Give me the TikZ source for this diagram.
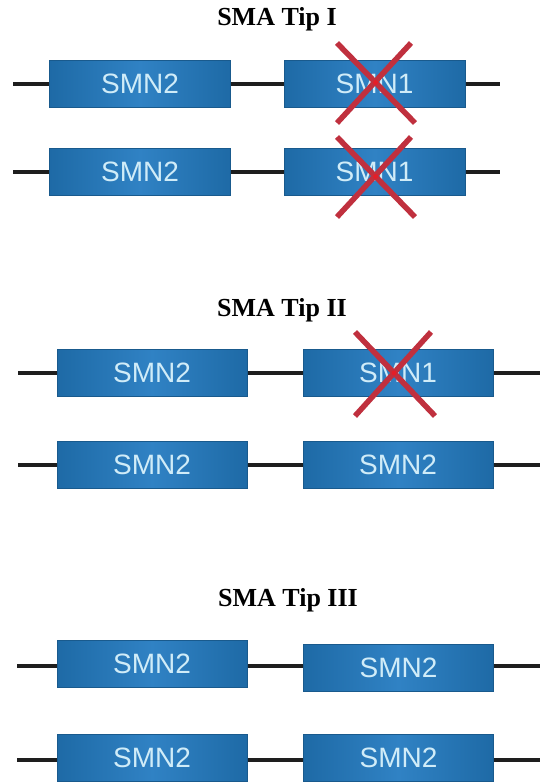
\documentclass[tikz,border=0pt]{standalone}
\usepackage{fontspec}
\setmainfont{Liberation Serif}
\newfontfamily\labelfont{Liberation Sans}
\definecolor{geneedge}{RGB}{30,106,166}
\definecolor{genemid}{RGB}{48,130,196}
\definecolor{genetext}{RGB}{208,236,248}
\definecolor{strand}{RGB}{30,30,30}
\definecolor{crossred}{RGB}{192,48,62}
\definecolor{crosscore}{RGB}{228,30,40}
\tikzset{
  gene/.style={draw=geneedge!85!black, line width=0.6pt,
    left color=geneedge, right color=geneedge, middle color=genemid,
    text=genetext, font=\labelfont\fontsize{28}{28}\selectfont,
    minimum height=47pt, inner sep=0pt, anchor=center},
  genewide/.style={gene, minimum width=181pt},
  genewider/.style={gene, minimum width=190pt},
  strandline/.style={draw=strand, line width=4.5pt},
  crossline/.style={draw=crossred, line width=5.5pt},
  title/.style={font=\bfseries\fontsize{26}{26}\selectfont, inner sep=0pt}
}
\begin{document}
\begin{tikzpicture}[x=1pt, y=-1pt]
  \useasboundingbox[fill=white] (0,0) rectangle (540,784);

  % ---- Type I ----
  \node[title] (t1) at (277,19) {SMA Tip I};
  \coordinate (a1l) at (13,84);  \coordinate (a1r) at (500,84);
  \coordinate (a2l) at (13,172); \coordinate (a2r) at (500,172);
  \draw[strandline] (a1l) -- (a1r);
  \draw[strandline] (a2l) -- (a2r);
  \node[genewide] (a1a) at (140,84)    {SMN2};
  \node[genewide] (a1b) at (374.5,84)  {SMN1};
  \node[genewide] (a2a) at (140,172)   {SMN2};
  \node[genewide] (a2b) at (374.5,172) {SMN1};
  \draw[crossline] (337,43) -- (415,123);
  \draw[crossline] (411,43) -- (337,123);
  \fill[crosscore] (375.5,82.5) circle (2.5pt);
  \draw[crossline] (337,137) -- (415,217);
  \draw[crossline] (411,137) -- (337,217);
  \fill[crosscore] (375.5,176.5) circle (2.5pt);

  % ---- Type II ----
  \node[title] (t2) at (282,310) {SMA Tip II};
  \coordinate (b1l) at (18,373);   \coordinate (b1r) at (540,373);
  \coordinate (b2l) at (18,465);   \coordinate (b2r) at (540,465);
  \draw[strandline] (b1l) -- (b1r);
  \draw[strandline] (b2l) -- (b2r);
  \node[genewider] (b1a) at (152,373)   {SMN2};
  \node[genewider] (b1b) at (398,373)   {SMN1};
  \node[genewider] (b2a) at (152,464.5) {SMN2};
  \node[genewider] (b2b) at (398,464.5) {SMN2};
  \draw[crossline] (355,332) -- (435,416);
  \draw[crossline] (431,332) -- (355,416);
  \fill[crosscore] (394,373) circle (2.5pt);

  % ---- Type III ----
  \node[title] (t3) at (288,600) {SMA Tip III};
  \coordinate (c1l) at (17,666);  \coordinate (c1r) at (540,666);
  \coordinate (c2l) at (17,760);  \coordinate (c2r) at (540,760);
  \draw[strandline] (c1l) -- (c1r);
  \draw[strandline] (c2l) -- (c2r);
  \node[genewider] (c1a) at (152,664)     {SMN2};
  \node[genewider] (c1b) at (398.5,667.5) {SMN2};
  \node[genewider] (c2a) at (152,757.5)   {SMN2};
  \node[genewider] (c2b) at (398.5,757.5) {SMN2};
\end{tikzpicture}
\end{document}
